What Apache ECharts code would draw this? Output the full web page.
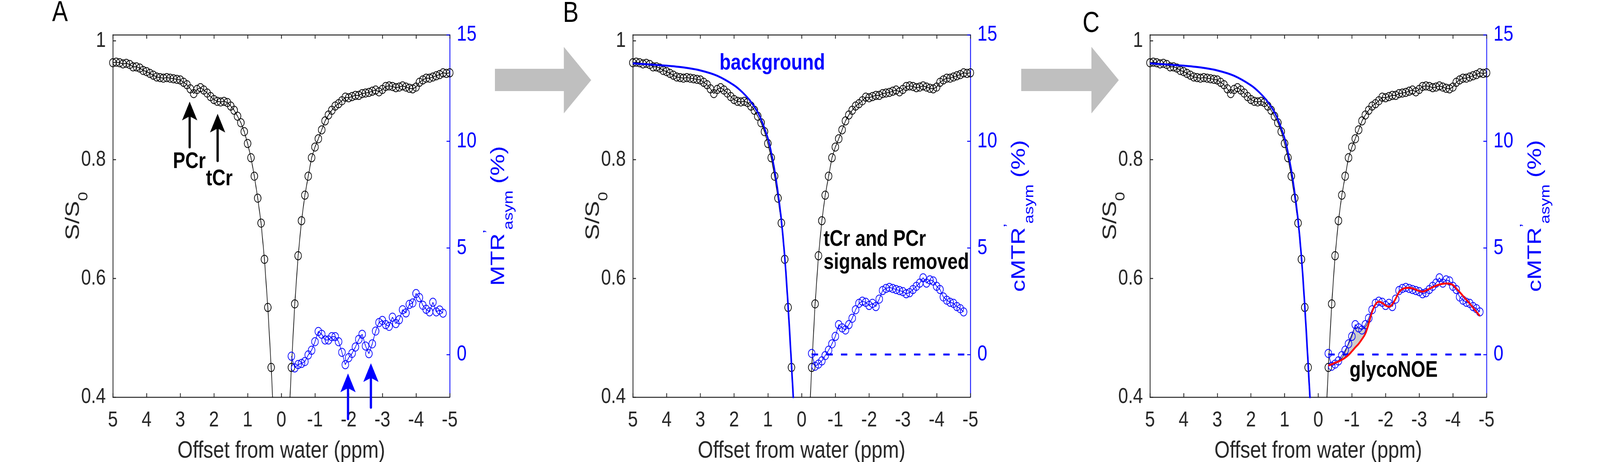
<!DOCTYPE html>
<html>
<head>
<meta charset="utf-8">
<script src="https://cdn.jsdelivr.net/npm/echarts@6/dist/echarts.min.js"></script>
<style>
html, body { margin: 0; padding: 0; background: #fff; overflow: hidden; }
#main { width: 5034px; height: 1182px; transform-origin: 0 0; }
</style>
</head>
<body>
<div id="main"></div>
<script>
// Z谱 偏移 (ppm)
let zOffsets = [
  5.0, 4.9, 4.8, 4.7, 4.6, 4.5, 4.4, 4.3, 4.2, 4.1,
  4.0, 3.9, 3.8, 3.7, 3.6, 3.5, 3.4, 3.3, 3.2, 3.1,
  3.0, 2.9, 2.8, 2.7, 2.6, 2.5, 2.4, 2.3, 2.2, 2.1,
  2.0, 1.9, 1.8, 1.7, 1.6, 1.5, 1.4, 1.3, 1.2, 1.1,
  1.0, 0.9, 0.8, 0.7, 0.6, 0.5, 0.4, 0.3, 0.2, 0.1,
  0.0,
  -0.1, -0.2, -0.3, -0.4, -0.5, -0.6, -0.7, -0.8, -0.9, -1.0,
  -1.1, -1.2, -1.3, -1.4, -1.5, -1.6, -1.7, -1.8, -1.9, -2.0,
  -2.1, -2.2, -2.3, -2.4, -2.5, -2.6, -2.7, -2.8, -2.9, -3.0,
  -3.1, -3.2, -3.3, -3.4, -3.5, -3.6, -3.7, -3.8, -3.9, -4.0,
  -4.1, -4.2, -4.3, -4.4, -4.5, -4.6, -4.7, -4.8, -4.9, -5.0
]
// Z谱 S/S0
let zSignal = [
  0.963, 0.964, 0.963, 0.961, 0.962, 0.960, 0.956, 0.956, 0.954, 0.950,
  0.948, 0.945, 0.942, 0.939, 0.938, 0.937, 0.938, 0.937, 0.936, 0.935,
  0.934, 0.930, 0.926, 0.919, 0.911, 0.918, 0.921, 0.917, 0.912, 0.906,
  0.901, 0.898, 0.897, 0.898, 0.896, 0.890, 0.883, 0.873, 0.862, 0.847,
  0.827, 0.803, 0.772, 0.735, 0.693, 0.632, 0.551, 0.450, 0.33, 0.22,
  0.15,
  0.22, 0.33, 0.450, 0.557, 0.638, 0.697, 0.740, 0.772, 0.803, 0.821,
  0.835, 0.850, 0.865, 0.875, 0.883, 0.890, 0.894, 0.899, 0.905, 0.904,
  0.906, 0.908, 0.908, 0.911, 0.912, 0.913, 0.915, 0.917, 0.914, 0.918,
  0.923, 0.924, 0.923, 0.921, 0.922, 0.924, 0.922, 0.920, 0.919, 0.922,
  0.930, 0.934, 0.937, 0.937, 0.939, 0.941, 0.943, 0.946, 0.945, 0.946
]
// MTRasym 偏移
let asymOffsets = [
  -0.3, -0.4, -0.5, -0.6, -0.7, -0.8, -0.9, -1.0, -1.1, -1.2,
  -1.3, -1.4, -1.5, -1.6, -1.7, -1.8, -1.9, -2.0, -2.1, -2.2,
  -2.3, -2.4, -2.5, -2.6, -2.7, -2.8, -2.9, -3.0, -3.1, -3.2,
  -3.3, -3.4, -3.5, -3.6, -3.7, -3.8, -3.9, -4.0, -4.1, -4.2,
  -4.3, -4.4, -4.5, -4.6, -4.7, -4.8
]
// A: MTR'asym (%)
let mtrAsym = [
  -0.08, -0.63, -0.47, -0.42, -0.33, -0.02, 0.2, 0.6, 1.08, 0.95,
  0.68, 0.68, 0.84, 0.84, 0.6, 0.1, -0.48, -0.15, 0.05, 0.35,
  0.71, 0.95, 0.4, 0.04, 0.5, 1.1, 1.5, 1.6, 1.4, 1.32,
  1.75, 1.45, 1.63, 2.1, 1.95, 2.35, 2.42, 2.86, 2.67, 2.31,
  2.12, 2.0, 2.45, 2.0, 2.09, 1.94
]
// B, C: cMTR'asym (%)
let cMtrAsym = [
  0.05, -0.55, -0.45, -0.3, -0.05, 0.2, 0.5, 0.85, 1.4, 1.25,
  1.15, 1.4, 1.7, 2.1, 2.4, 2.5, 2.45, 2.3, 2.4, 2.25,
  2.6, 3.0, 3.1, 3.15, 3.1, 3.05, 3.0, 2.95, 2.85, 2.9,
  3.05, 3.2, 3.35, 3.6, 3.35, 3.5, 3.45, 3.2, 3.05, 2.7,
  2.55, 2.45, 2.4, 2.25, 2.15, 2.0
]
// C: 拟合曲线(红)
let fitAsym = [
  -0.52, -0.46, -0.39, -0.33, -0.25, -0.15, -0.02, 0.15, 0.33, 0.5,
  0.72, 0.98, 1.45, 2.0, 2.35, 2.48, 2.42, 2.3, 2.24, 2.35,
  2.62, 2.92, 3.07, 3.12, 3.13, 3.1, 3.04, 2.98, 2.95, 3.0,
  3.08, 3.16, 3.23, 3.28, 3.32, 3.33, 3.32, 3.26, 3.1, 2.93,
  2.75, 2.57, 2.39, 2.2, 2.0, 1.81
]
// C: glycoNOE 上边界
let glycoOffsets = [-0.3, -0.4, -0.5, -0.6, -0.7, -0.8, -0.9, -1.0, -1.1, -1.2, -1.3, -1.4, -1.5, -1.6]
let glycoTop = [-0.52, -0.44, -0.36, -0.28, -0.17, 0.12, 0.55, 0.95, 1.26, 1.24, 1.2, 1.3, 1.6, 2.0]
// B, C: background
let bgOffsets = [5, 4.5, 4, 3.5, 3, 2.5, 2, 1.75, 1.5, 1.25, 1, 0.9, 0.8, 0.7, 0.6, 0.5, 0.4, 0.3, 0.2]
let bgSignal = [0.962, 0.960, 0.958, 0.955, 0.950, 0.941, 0.925, 0.913, 0.897, 0.874, 0.836, 0.812, 0.782, 0.744, 0.698, 0.636, 0.553, 0.455, 0.35]
// 零线
let zeroOffsets = [-0.3, -5]
let zeroValues = [0, 0]
// 刻度
let leftTicks = [0.4, 0.6, 0.8, 1]
let rightTicks = [0, 5, 10, 15]

let FONT = '"Liberation Sans", Arial, Helvetica, sans-serif'
let AX = '#262626'
let BLUE = '#0000ff'

// 按 5034x1182 绘制, 再整体缩放到窗口
let box = document.getElementById('main')
box.style.transform = 'scale(' + (window.innerWidth / 5034) + ',' + (window.innerHeight / 1182) + ')'

let grids = [
  {left: 355, top: 89, width: 1060, height: 927},
  {left: 1991, top: 89, width: 1062, height: 927},
  {left: 3618, top: 89, width: 1059, height: 927}
]
let rightNames = [
  '{b|MTR}{p|\u2019}{s|asym}{b| (%)}',
  '{b|cMTR}{p|\u2019}{s|asym}{b| (%)}',
  '{b|cMTR}{p|\u2019}{s|asym}{b| (%)}'
]

function pair(xs, ys) {
  return xs.map((x, i) => [x, ys[i]])
}

function nameRich(color) {
  return {
    b: {fontSize: 62, fontFamily: FONT, color: color, lineHeight: 62, padding: [22, 0, 0, 0], verticalAlign: 'top'},
    p: {fontSize: 42, fontFamily: FONT, color: color, lineHeight: 42, verticalAlign: 'top'},
    s: {fontSize: 42, fontFamily: FONT, color: color, lineHeight: 42, padding: [64, 0, 0, 0], verticalAlign: 'top'}
  }
}

function xAxisOf(i, pos) {
  let ax = {
    gridIndex: i, type: 'value', position: pos, min: -5, max: 5, interval: 1, inverse: true,
    axisLine: {show: true, onZero: false, lineStyle: {color: AX, width: 2.5}},
    axisTick: {show: true, inside: true, length: 10, lineStyle: {color: AX, width: 2.5}},
    axisLabel: {show: pos === 'bottom', margin: 32, fontSize: 56, color: AX, fontFamily: FONT},
    splitLine: {show: false}
  }
  if (pos === 'bottom') {
    ax.name = 'Offset from water (ppm)'
    ax.nameLocation = 'middle'
    ax.nameGap = 107
    ax.nameMoveOverlap = false
    ax.nameTextStyle = {fontSize: 62, color: AX, fontFamily: FONT}
  }
  return ax
}

function leftAxisOf(i) {
  return {
    gridIndex: i, type: 'value', position: 'left', min: 0.4, max: 1.01,
    axisLine: {show: true, onZero: false, lineStyle: {color: AX, width: 2.5}},
    axisTick: {show: true, inside: true, length: 10, customValues: leftTicks, lineStyle: {color: AX, width: 2.5}},
    axisLabel: {margin: 22, fontSize: 56, color: AX, fontFamily: FONT, customValues: leftTicks},
    splitLine: {show: false},
    name: '{b|S/S}{s|0}', nameLocation: 'middle', nameRotate: 90, nameGap: 115, nameMoveOverlap: false,
    nameTextStyle: {rich: nameRich(AX)}
  }
}

function rightAxisOf(i) {
  return {
    gridIndex: i, type: 'value', position: 'right', min: -2, max: 15,
    axisLine: {show: true, onZero: false, lineStyle: {color: BLUE, width: 2.5}},
    axisTick: {show: true, inside: true, length: 10, customValues: rightTicks, lineStyle: {color: BLUE, width: 2.5}},
    axisLabel: {margin: 22, fontSize: 56, color: BLUE, fontFamily: FONT, customValues: rightTicks},
    splitLine: {show: false},
    name: rightNames[i], nameLocation: 'middle', nameRotate: 90, nameGap: 101, nameMoveOverlap: false,
    nameTextStyle: {rich: nameRich(BLUE)}
  }
}

function circleLine(i, right, data, color, z) {
  return {
    type: 'line', xAxisIndex: i * 2, yAxisIndex: i * 2 + (right ? 1 : 0), data: data,
    symbol: 'circle', symbolSize: 21, clip: true, z: z,
    itemStyle: {color: 'rgba(0,0,0,0)', borderColor: color, borderWidth: 2},
    lineStyle: {color: color, width: 2},
    emphasis: {disabled: true}
  }
}

function plainLine(i, right, data, color, width, z, extra) {
  return Object.assign({
    type: 'line', xAxisIndex: i * 2, yAxisIndex: i * 2 + (right ? 1 : 0), data: data,
    symbol: 'none', clip: true, z: z,
    lineStyle: {color: color, width: width},
    emphasis: {disabled: true}
  }, extra || {})
}

let option = {
  backgroundColor: '#fff',
  animation: false,
  grid: grids.map(g => Object.assign({containLabel: false, outerBoundsMode: 'none'}, g)),
  xAxis: [],
  yAxis: [],
  series: []
}
for (let i = 0; i < 3; i++) {
  option.xAxis.push(xAxisOf(i, 'bottom'), xAxisOf(i, 'top'))
  option.yAxis.push(leftAxisOf(i), rightAxisOf(i))
}

let zData = pair(zOffsets, zSignal)
let dash = {color: BLUE, width: 5, type: [20, 26]}
// A
option.series.push(circleLine(0, false, zData, '#000', 2))
option.series.push(circleLine(0, true, pair(asymOffsets, mtrAsym), BLUE, 3))
// B
option.series.push(circleLine(1, false, zData, '#000', 2))
option.series.push(plainLine(1, false, pair(bgOffsets, bgSignal), BLUE, 5, 3, {smooth: 0.3}))
option.series.push(plainLine(1, true, pair(zeroOffsets, zeroValues), BLUE, 5, 3, {lineStyle: dash}))
option.series.push(circleLine(1, true, pair(asymOffsets, cMtrAsym), BLUE, 4))
// C
option.series.push(circleLine(2, false, zData, '#000', 2))
option.series.push(plainLine(2, false, pair(bgOffsets, bgSignal), BLUE, 5, 3, {smooth: 0.3}))
option.series.push(plainLine(2, true, pair(zeroOffsets, zeroValues), BLUE, 5, 3, {lineStyle: dash}))
// glycoNOE 阴影: 上边界与拟合曲线之间
option.series.push({
  type: 'custom', xAxisIndex: 4, yAxisIndex: 5, data: [[glycoOffsets[0], glycoTop[0]]], clip: true, z: 3,
  renderItem: function (params, api) {
    let upper = glycoOffsets.map((x, k) => api.coord([x, glycoTop[k]]))
    let lower = glycoOffsets.map(x => api.coord([x, fitAsym[asymOffsets.indexOf(x)]])).reverse()
    return {type: 'polygon', shape: {points: upper.concat(lower)}, style: {fill: '#cccccc'}}
  }
})
option.series.push(plainLine(2, true, pair(glycoOffsets, glycoTop), '#000', 1.5, 3, {smooth: 0.3}))
option.series.push(circleLine(2, true, pair(asymOffsets, cMtrAsym), BLUE, 4))
option.series.push(plainLine(2, true, pair(asymOffsets, fitAsym), '#ff0000', 5, 5, {smooth: 0.4}))

let chart = echarts.init(box, null, {width: 5034, height: 1182})
chart.setOption(option)

// 注释: 箭头和文字
function px(i, right, x, y) {
  return chart.convertToPixel({xAxisIndex: i * 2, yAxisIndex: i * 2 + (right ? 1 : 0)}, [x, y])
}
function upArrow(color, p0, p1, w, h) {
  return [
    {type: 'line', z: 100, shape: {x1: p0[0], y1: p0[1], x2: p1[0], y2: p1[1] + h * 0.7}, style: {stroke: color, lineWidth: 7, lineCap: 'round'}},
    {type: 'polygon', z: 100, shape: {points: [[p1[0], p1[1]], [p1[0] - w / 2, p1[1] + h], [p1[0], p1[1] + h * 0.78], [p1[0] + w / 2, p1[1] + h]]}, style: {fill: color}}
  ]
}
function label(text, p, color, align, size, weight, extra) {
  return {
    type: 'text', z: 100,
    style: Object.assign({text: text, x: p[0], y: p[1], fill: color, align: align, verticalAlign: 'middle',
      fontSize: size, fontWeight: weight, fontFamily: FONT}, extra || {})
  }
}
function bigArrow(x0, x1, x2) {
  return {
    type: 'polygon', z: 1,
    shape: {points: [[x0, 176], [x1, 176], [x1, 120], [x2, 205], [x1, 290], [x1, 233], [x0, 233]]},
    style: {fill: '#bfbfbf'}
  }
}

let g = []
g = g.concat(upArrow('#000', px(0, false, 2.72, 0.821), px(0, false, 2.72, 0.8975), 48, 48))
g = g.concat(upArrow('#000', px(0, false, 1.89, 0.798), px(0, false, 1.89, 0.877), 48, 48))
g = g.concat(upArrow(BLUE, px(0, true, -1.98, -3.02), px(0, true, -1.98, -0.89), 48, 48))
g = g.concat(upArrow(BLUE, px(0, true, -2.66, -2.48), px(0, true, -2.66, -0.41), 48, 48))
g.push(label('PCr', px(0, false, 2.73, 0.796), '#000', 'center', 58, 'bold'))
g.push(label('tCr', px(0, false, 1.84, 0.767), '#000', 'center', 58, 'bold'))
g.push(label('background', px(1, false, 0.87, 0.962), BLUE, 'center', 58, 'bold'))
g.push(label('tCr and PCr\nsignals removed', px(1, false, -0.65, 0.646), '#000', 'left', 58, 'bold', {lineHeight: 59}))
g.push(label('glycoNOE', px(2, true, -0.93, -0.75), '#000', 'left', 58, 'bold'))
// 面板字母
g.push(label('A', [164, 34], '#000', 'left', 74, 'normal'))
g.push(label('B', [1771, 36], '#000', 'left', 74, 'normal'))
g.push(label('C', [3406, 62], '#000', 'left', 74, 'normal'))
// 面板之间的灰色箭头
g.push(bigArrow(1557, 1774, 1860))
g.push(bigArrow(3213, 3434, 3520))

chart.setOption({graphic: g})
</script>
</body>
</html>
